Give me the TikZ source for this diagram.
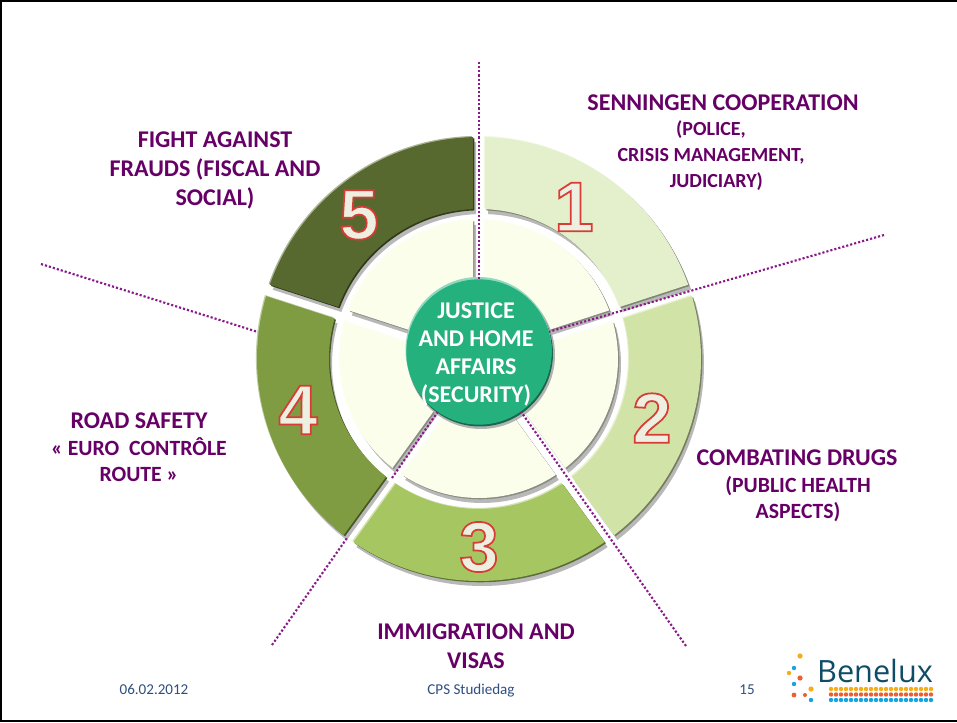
\documentclass[tikz,border=0pt]{standalone}
\usepackage{fontspec}
\setmainfont{Carlito}
\newfontfamily\digitfont{Liberation Sans}
\newfontfamily\logofont{Open Sans}
\definecolor{titlepurple}{HTML}{660066}
\definecolor{spokepurple}{HTML}{8A1A8A}
\definecolor{footgrey}{HTML}{2F4F80}
\definecolor{segone}{HTML}{E4F0CC}
\definecolor{segtwo}{HTML}{D2E3A8}
\definecolor{segthree}{HTML}{A6C662}
\definecolor{segfour}{HTML}{7F9C42}
\definecolor{segfive}{HTML}{58692F}
\definecolor{seginner}{HTML}{FAFEEB}
\definecolor{justicegreen}{HTML}{25B17D}
\definecolor{logoblue}{HTML}{0E4C68}
\definecolor{logoorange}{HTML}{F5AE17}
\definecolor{logored}{HTML}{EC5F33}
\definecolor{logosky}{HTML}{12A5E2}
\newcommand{\ringpath}[4]{({#1+asin(6/#4)}:#4) arc[start angle={#1+asin(6/#4)},end angle={#2-asin(6/#4)},radius=#4] -- ({#2-asin(6/#3)}:#3) arc[start angle={#2-asin(6/#3)},end angle={#1+asin(6/#3)},radius=#3] -- cycle}
\newcommand{\ringseg}[5]{
\fill[black!28,shift={(3,-5)}] \ringpath{#1}{#2}{#3}{#4};
\fill[#5!55!black,shift={(1.3,-1.3)}] \ringpath{#1}{#2}{#3}{#4};
\fill[#5!50!white,shift={(-1.1,1.1)}] \ringpath{#1}{#2}{#3}{#4};
\fill[#5] \ringpath{#1}{#2}{#3}{#4};
}
\newcommand{\outlined}[1]{\special{pdf:code q 2 Tr 1.3 w 0.85 0.23 0.21 RG 0.93 0.94 0.88 rg}#1\special{pdf:code Q}}
\tikzset{
heading/.style={text=titlepurple,font=\fontsize{18}{21.9}\selectfont\bfseries,align=center,inner sep=0pt},
subheading/.style={text=titlepurple,font=\fontsize{15}{19.5}\selectfont\bfseries,align=center,inner sep=0pt},
bigsubheading/.style={subheading,font=\fontsize{16.3}{19.5}\selectfont\bfseries},
footer/.style={text=footgrey,font=\fontsize{11.3}{13}\selectfont,inner sep=0pt,anchor=base},
digit/.style={font=\fontsize{53}{53}\selectfont\digitfont\bfseries,inner sep=0pt},
spoke/.style={spokepurple,line width=1.6pt,dash pattern=on 1.6pt off 1.5pt},
}
\begin{document}
\begin{tikzpicture}[x=.75pt,y=.75pt]
\useasboundingbox (0,0) rectangle (957,722);
\fill[white] (0,0) rectangle (957,722);
\draw[black,line width=1.6pt] (957,721) -- (.8,721) -- (.8,1) -- (957,1);
\begin{scope}[shift={(479,363)}]
\ringseg{18}{90}{150}{222}{segone}
\ringseg{-54}{18}{150}{222}{segtwo}
\ringseg{-126}{-54}{150}{222}{segthree}
\ringseg{-198}{-126}{150}{222}{segfour}
\ringseg{90}{162}{150}{222}{segfive}
\foreach \a in {18,90,162,234,306}{
\ringseg{\a}{\a+72}{60}{139}{seginner}
}
\end{scope}
\coordinate (spokeoneend) at (479,660);
\coordinate (spoketwoend) at (884,487);
\coordinate (spokethreeend) at (686,76);
\coordinate (spokefourend) at (272,77);
\coordinate (spokefourout) at (347,184);
\coordinate (spokefourin) at (392,244);
\coordinate (spokefiveend) at (41,458);
\coordinate (spokefiveout) at (258,390);
\fill[black!30] (481,367) circle (74);
\fill[justicegreen!60!black] (480,368.5) circle (73);
\fill[justicegreen!50!white] (478.5,372) circle (73);
\node[circle,fill=justicegreen,minimum size=109pt,inner sep=0pt] (justice) at (479,370) {};
\draw[spoke] (spokeoneend) -- (justice);
\draw[spoke] (spoketwoend) -- (justice);
\draw[spoke] (spokethreeend) -- (justice);
\draw[spoke] (spokefourend) -- (spokefourout);
\draw[spoke] (spokefourin) -- (justice);
\draw[spoke] (spokefiveend) -- (spokefiveout);
\node[text=white,font=\fontsize{18}{21}\selectfont\bfseries,align=center,inner sep=0pt] (justicetext) at (476,368) {JUSTICE\\AND HOME\\AFFAIRS\\(SECURITY)};
\node[digit] (digitone) at (574,515) {\outlined{1}};
\node[digit] (digittwo) at (652,304) {\outlined{2}};
\node[digit] (digitthree) at (479,175) {\outlined{3}};
\node[digit] (digitfour) at (298,312) {\outlined{4}};
\node[digit] (digitfive) at (359,507) {\outlined{5}};
\node[heading] (senningen) at (723,619) {SENNINGEN COOPERATION};
\node[subheading] (police) at (711,566) {(POLICE,\\CRISIS MANAGEMENT,\\\hspace{8pt}JUDICIARY)};
\node[heading] (frauds) at (215,551.5) {FIGHT AGAINST\\FRAUDS (FISCAL AND\\SOCIAL)};
\node[heading] (road) at (139,301) {ROAD SAFETY};
\node[bigsubheading] (euro) at (139,262) {« EURO\ \ CONTRÔLE\\ROUTE »};
\node[heading] (drugs) at (797,264) {COMBATING DRUGS};
\node[bigsubheading] (health) at (798,223) {(PUBLIC HEALTH\\ASPECTS)};
\node[heading] (immigration) at (476,76) {IMMIGRATION AND\\VISAS};
\node[footer] (datefoot) at (154,28) {06.02.2012};
\node[footer] (eventfoot) at (471,28) {CPS Studiedag};
\node[footer] (pagefoot) at (747,28) {15};
\node[text=logoblue,font=\fontsize{23}{23}\selectfont\logofont,inner sep=0pt] (benelux) at (875,51) {Benelux};
\foreach \x in {831,836,...,931}{
\fill[logoorange] (\x,33) circle (2.2);
\fill[logored] (\x,27.5) circle (2.2);
\fill[logosky] (\x,22) circle (2.2);
}
\fill[logoorange] (811,33) circle (2.6);
\fill[logoorange] (800,66) circle (2.6);
\fill[logosky] (794,54) circle (2.2);
\fill[logoorange] (789,49) circle (2.2);
\fill[logored] (800,44) circle (2.6);
\fill[logosky] (794,38) circle (2.2);
\fill[logored] (794,27) circle (2.4);
\fill[logored] (805,27) circle (2);
\fill[logosky] (811,22) circle (2.2);
\end{tikzpicture}
\end{document}
